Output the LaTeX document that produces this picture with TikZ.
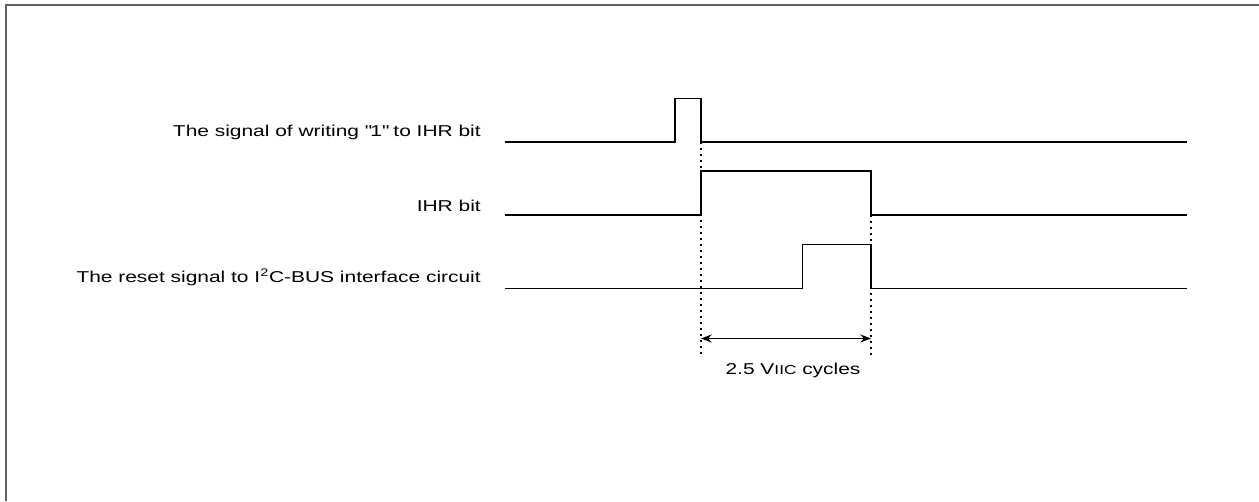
\documentclass[tikz,border=0pt]{standalone}
\usepackage{fontspec}
\setmainfont{Liberation Sans}[FakeStretch=1.33]
\usetikzlibrary{arrows.meta, positioning}

\begin{document}
\begin{tikzpicture}[x=0.75pt, y=-0.75pt,
  every node/.style={font=\fontsize{11.8}{13}\selectfont},
  lbl/.style={anchor=base east, inner sep=0pt},
  wave/.style={black, line width=1.1pt},
  guide/.style={black, line width=1.1pt, dash pattern=on 1.5pt off 3pt},
  span/.style={{Stealth[length=8pt,width=6pt]}-{Stealth[length=8pt,width=6pt]}, line width=1.1pt},
  frm/.style={gray!75!black, line width=1.5pt}
]
\useasboundingbox (0,0) rectangle (1259,501);

%% frame (only top and left edges show)
\draw[frm] (5.5,501) -- (5.5,4.5) -- (1259,4.5);

%% signal names
\node[lbl] (wr)  at (481,136.5) {The signal of writing \textquotedbl 1\textquotedbl{} to IHR bit};
\node[lbl] (ihr) at (481,211)   {IHR bit};
\node[lbl] (rst) at (481,282)   {The reset signal to I\textsuperscript{2}C-BUS interface circuit};

%% edges
\coordinate (t0) at (701,0);
\coordinate (t1) at (871,0);

%% guides
\draw[guide] (t0 |- 0,142) -- (t0 |- 0,357);
\draw[guide] (t1 |- 0,215) -- (t1 |- 0,357);

%% waveforms
\draw[wave] (505,142) -- (675,142) -- (675,98.5) -- (701,98.5) -- (701,142) -- (1187,142);
\draw[wave] (505,215) -- (701,215) -- (701,171) -- (871,171) -- (871,215) -- (1187,215);
\draw[wave] (505,288.5) -- (802.5,288.5) -- (802.5,244.5) -- (871,244.5) -- (871,288.5) -- (1187,288.5);

%% 2.5 cycles span
\coordinate (sa) at (t0 |- 0,338.5);
\coordinate (sb) at (t1 |- 0,338.5);
\draw[span] (sa) -- (sb);
\node[anchor=base] (cyc) at (793,374) {2.5 V{\fontsize{9.7}{11}\selectfont IIC} cycles};
\end{tikzpicture}
\end{document}
